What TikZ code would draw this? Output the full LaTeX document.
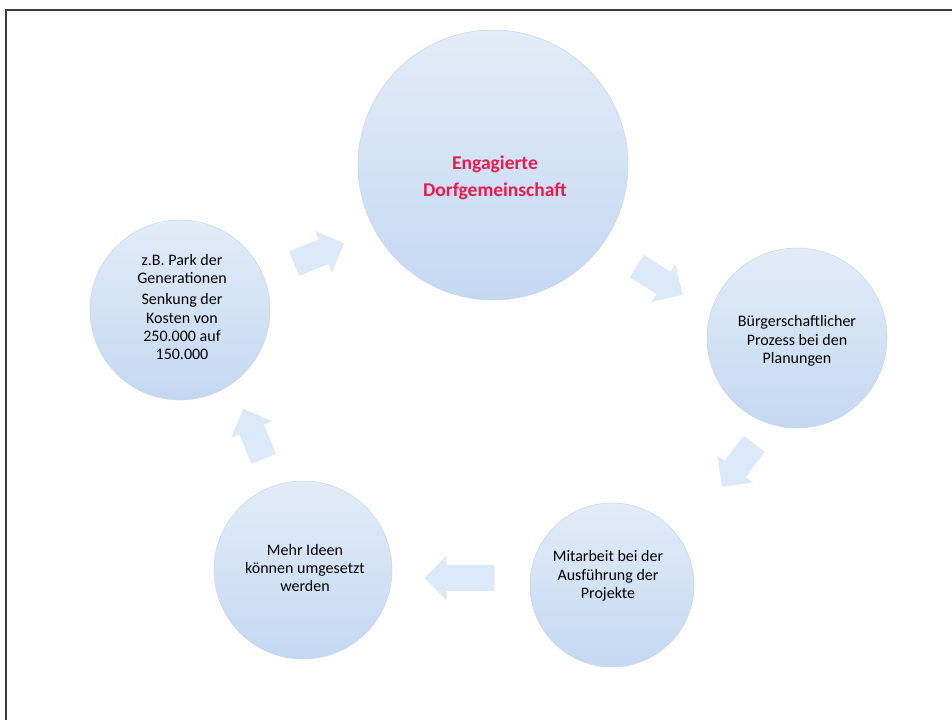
\documentclass[tikz,border=0pt]{standalone}
\usepackage{fontspec}
\setmainfont{Carlito}
\usetikzlibrary{shapes.arrows}
\definecolor{circtop}{RGB}{226,236,248}
\definecolor{circbot}{RGB}{196,216,242}
\definecolor{circedge}{RGB}{205,214,226}
\definecolor{arrowfill}{RGB}{205,225,246}
\definecolor{titlered}{RGB}{232,28,78}
\definecolor{framegray}{RGB}{60,60,65}
\tikzset{
  bubble/.style={circle, draw=circedge, line width=0.5pt, top color=circtop, bottom color=circbot, inner sep=0pt},
  bubbletext/.style={align=center, font=\fontsize{16}{18.3}\selectfont, text=black},
  cyclearrow/.style={single arrow, fill=arrowfill, fill opacity=0.7, draw=none, minimum height=54pt, minimum width=0pt, single arrow head extend=9pt, inner xsep=0pt, inner ysep=13pt, anchor=center}
}
\begin{document}
\begin{tikzpicture}[x=1pt,y=-1pt]
\useasboundingbox (0,0) rectangle (952,720);
\fill[white] (0,0) rectangle (952,720);
% frame
\draw[framegray, line width=2pt] (6,720) -- (6,10) -- (952,10);
% circles
\node[bubble, minimum size=270pt] (top) at (493,165) {};
\node[bubble, minimum size=180pt] (left) at (180,310) {};
\node[bubble, minimum size=180pt] (right) at (797,338) {};
\node[bubble, minimum size=164pt] (br) at (612,585) {};
\node[bubble, minimum size=178pt] (bl) at (303,570) {};
% texts
\node[align=center, font=\bfseries\fontsize{19.5}{27}\selectfont, text=titlered] (toptext) at (495,178) {Engagierte\\Dorfgemeinschaft};
\node[bubbletext] (lefttext) at (182,307) {z.B. Park der\\Generationen\\[3pt]Senkung der\\Kosten von\\250.000 auf\\150.000};
\node[bubbletext] (righttext) at (797,341) {Bürgerschaftlicher\\Prozess bei den\\Planungen};
\node[bubbletext] (brtext) at (608,576) {Mitarbeit bei der\\Ausführung der\\Projekte};
\node[bubbletext] (bltext) at (305,568) {Mehr Ideen\\können umgesetzt\\werden};
% cycle arrows
\node[cyclearrow, rotate=22] (a1) at (313,256) {};
\node[cyclearrow, rotate=-32] (a2) at (654,277) {};
\node[cyclearrow, rotate=-127] (a3) at (742,460) {};
\node[cyclearrow, rotate=180, minimum height=70pt] (a4) at (466,578) {};
\node[cyclearrow, rotate=112] (a5) at (256,440) {};
\end{tikzpicture}
\end{document}
